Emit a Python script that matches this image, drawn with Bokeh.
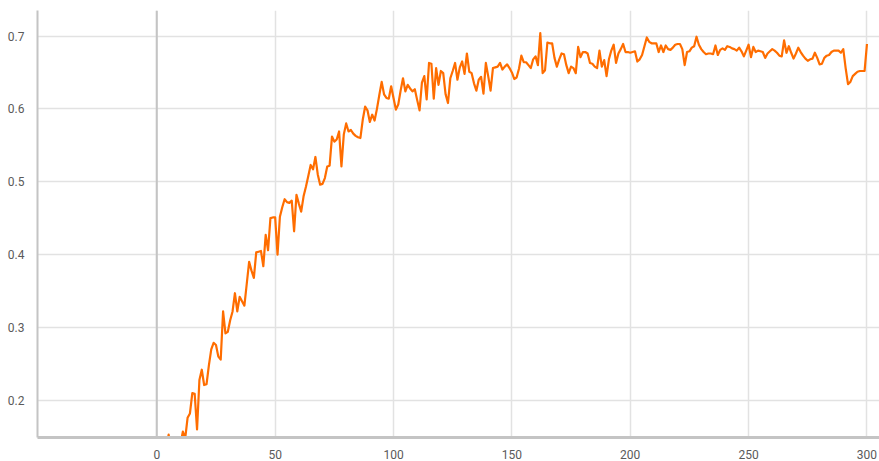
from bokeh.plotting import figure
from bokeh.models import Range1d, Span, Label, FixedTicker
from bokeh.embed import file_html
from bokeh.resources import INLINE

# ---- data ----
steps = list(range(1, 301))
values = [
    0.090, 0.110, 0.120, 0.135, 0.153, 0.130, 0.138, 0.142, 0.135, 0.140,   # 1-10
    0.157, 0.148, 0.176, 0.182, 0.210, 0.209, 0.160, 0.228, 0.242, 0.221,   # 11-20
    0.222, 0.248, 0.270, 0.279, 0.276, 0.260, 0.256, 0.322, 0.292, 0.294,   # 21-30
    0.310, 0.322, 0.347, 0.322, 0.342, 0.336, 0.330, 0.360, 0.390, 0.378,   # 31-40
    0.368, 0.403, 0.404, 0.405, 0.384, 0.427, 0.406, 0.450, 0.451, 0.451,   # 41-50
    0.400, 0.452, 0.465, 0.476, 0.472, 0.471, 0.474, 0.432, 0.482, 0.470,   # 51-60
    0.459, 0.480, 0.493, 0.508, 0.523, 0.517, 0.534, 0.510, 0.496, 0.497,   # 61-70
    0.505, 0.521, 0.522, 0.562, 0.555, 0.558, 0.569, 0.521, 0.565, 0.580,   # 71-80
    0.569, 0.571, 0.566, 0.563, 0.561, 0.560, 0.585, 0.603, 0.598, 0.582,   # 81-90
    0.592, 0.584, 0.600, 0.619, 0.637, 0.620, 0.615, 0.614, 0.631, 0.615,   # 91-100
    0.599, 0.606, 0.625, 0.642, 0.624, 0.633, 0.628, 0.624, 0.627, 0.612,   # 101-110
    0.598, 0.636, 0.645, 0.613, 0.663, 0.662, 0.614, 0.656, 0.633, 0.652,   # 111-120
    0.649, 0.620, 0.608, 0.642, 0.652, 0.663, 0.640, 0.657, 0.665, 0.648,   # 121-130
    0.676, 0.651, 0.649, 0.635, 0.625, 0.640, 0.644, 0.621, 0.663, 0.645,   # 131-140
    0.625, 0.656, 0.657, 0.658, 0.663, 0.654, 0.658, 0.661, 0.656, 0.650,   # 141-150
    0.641, 0.643, 0.655, 0.673, 0.664, 0.664, 0.660, 0.656, 0.668, 0.672,   # 151-160
    0.660, 0.704, 0.649, 0.653, 0.691, 0.690, 0.690, 0.670, 0.658, 0.668,   # 161-170
    0.676, 0.675, 0.660, 0.649, 0.658, 0.656, 0.649, 0.685, 0.671, 0.678,   # 171-180
    0.678, 0.676, 0.663, 0.662, 0.658, 0.656, 0.680, 0.658, 0.667, 0.645,   # 181-190
    0.668, 0.680, 0.688, 0.663, 0.676, 0.682, 0.689, 0.678, 0.678, 0.677,   # 191-200
    0.678, 0.679, 0.665, 0.668, 0.674, 0.686, 0.698, 0.692, 0.690, 0.690,   # 201-210
    0.690, 0.678, 0.687, 0.678, 0.687, 0.682, 0.681, 0.684, 0.688, 0.689,   # 211-220
    0.689, 0.682, 0.660, 0.678, 0.679, 0.684, 0.686, 0.699, 0.688, 0.682,   # 221-230
    0.678, 0.675, 0.676, 0.676, 0.675, 0.687, 0.674, 0.681, 0.683, 0.681,   # 231-240
    0.686, 0.685, 0.683, 0.682, 0.680, 0.684, 0.679, 0.672, 0.680, 0.688,   # 241-250
    0.671, 0.685, 0.678, 0.680, 0.679, 0.678, 0.670, 0.676, 0.679, 0.682,   # 251-260
    0.680, 0.677, 0.673, 0.672, 0.694, 0.677, 0.686, 0.677, 0.669, 0.676,   # 261-270
    0.684, 0.678, 0.673, 0.669, 0.666, 0.668, 0.669, 0.677, 0.670, 0.661,   # 271-280
    0.662, 0.670, 0.673, 0.674, 0.678, 0.680, 0.680, 0.680, 0.677, 0.682,   # 281-290
    0.656, 0.634, 0.637, 0.645, 0.648, 0.651, 0.652, 0.652, 0.652, 0.689,   # 291-300
]
x_ticks = [0, 50, 100, 150, 200, 250, 300]
y_ticks = [0.2, 0.3, 0.4, 0.5, 0.6, 0.7]

FONT = "Roboto"
LABEL_COLOR = "#5a5a5a"
AXIS_COLOR = "#c4c4c4"
GRID_COLOR = "#e2e2e2"

p = figure(
    width=879, height=461,
    x_range=Range1d(-50.4, 305.3), y_range=Range1d(0.149, 0.735),
    output_backend="svg", toolbar_location=None,
    min_border_left=37, min_border_right=0, min_border_top=10, min_border_bottom=23,
)
p.outline_line_color = None
p.background_fill_color = "white"

# axes
p.xaxis.ticker = FixedTicker(ticks=x_ticks)
p.yaxis.ticker = FixedTicker(ticks=y_ticks)
for ax in (p.xaxis[0], p.yaxis[0]):
    ax.axis_line_color = AXIS_COLOR
    ax.axis_line_width = 2
    ax.major_tick_line_color = None
    ax.minor_tick_line_color = None
    ax.major_label_text_font = FONT
    ax.major_label_text_font_size = "12px"
    ax.major_label_text_color = LABEL_COLOR
p.xaxis.major_label_standoff = 6
p.yaxis.major_label_standoff = 7
p.xaxis.axis_line_width = 3

# grids
p.xgrid.ticker = FixedTicker(ticks=x_ticks)
p.ygrid.ticker = FixedTicker(ticks=y_ticks)
p.grid.grid_line_color = GRID_COLOR
p.grid.grid_line_width = 1.5

# zero line
p.add_layout(Span(location=0, dimension="height", line_color=AXIS_COLOR, line_width=2))

# faint leftover label at the far left
p.add_layout(Label(x=-48.5, y=0.149, text="0", x_units="data", y_units="data",
                   y_offset=-20, text_font=FONT, text_font_size="12px",
                   text_color="#ebebeb", text_align="center"))

p.line(steps, values, line_color="#ff6d00", line_width=2.2, line_join="round")

open("out.html", "w").write(file_html(p, INLINE))
